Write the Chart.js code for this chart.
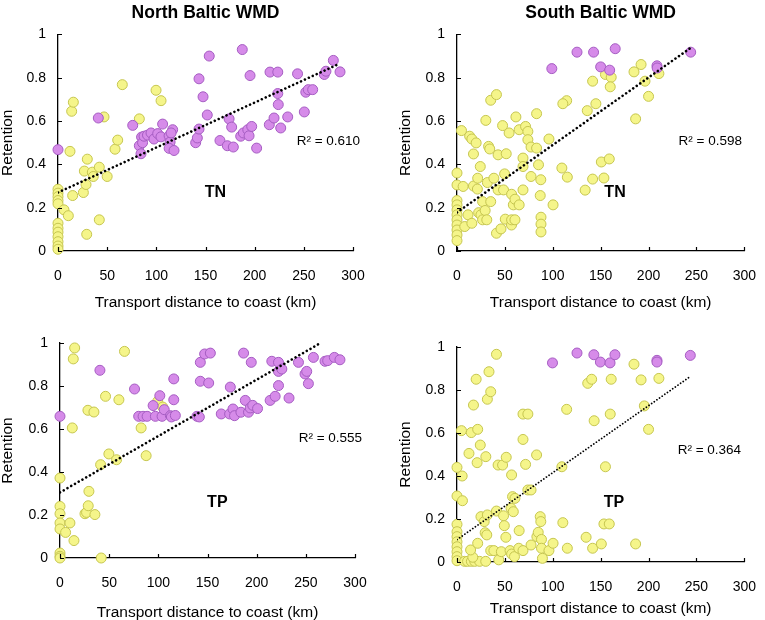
<!DOCTYPE html>
<html>
<head>
<title>Retention vs transport distance to coast</title>
<style>
  body { margin: 0; background: #fff; }
  canvas { position: absolute; }
</style>
<script src="https://cdn.jsdelivr.net/npm/chart.js"></script>
</head>
<body>
<canvas id="nbTN" width="380" height="310" style="left:0;top:0"></canvas>
<canvas id="sbTN" width="385" height="310" style="left:380px;top:0"></canvas>
<canvas id="nbTP" width="380" height="310" style="left:0;top:310px"></canvas>
<canvas id="sbTP" width="385" height="310" style="left:380px;top:310px"></canvas>

<script>
// [distance km, retention] pairs
const nbTN_purple = [[0,0.468],[41,0.614],[76,0.58],[82.7,0.486],[85,0.526],[86,0.5],[84.4,0.449],[87.5,0.53],[91,0.535],[94.6,0.545],[97.6,0.517],[101.4,0.542],[104.7,0.527],[106.4,0.586],[113,0.532],[114,0.503],[113,0.474],[116.6,0.56],[118,0.464],[115,0.545],[140,0.5],[141.7,0.522],[143.4,0.795],[143.4,0.563],[147.5,0.712],[153.8,0.9],[151.8,0.628],[164.7,0.51],[174,0.61],[172.2,0.486],[176.6,0.572],[178.3,0.48],[187.4,0.93],[185.8,0.53],[188.5,0.545],[193,0.56],[194.3,0.532],[195.3,0.81],[197,0.575],[202,0.475],[215.6,0.826],[214.9,0.583],[219.7,0.614],[223.5,0.826],[223.5,0.727],[224,0.676],[226.5,0.568],[233.6,0.619],[243.6,0.818],[250.5,0.642],[252,0.733],[254.5,0.745],[259,0.745],[270.8,0.815],[272.5,0.83],[280,0.88],[286.8,0.827]];
const nbTN_yellow = [[0,0.285],[0,0.267],[0,0.251],[0,0.233],[0,0.218],[0,0.128],[0,0.105],[0,0.087],[0,0.066],[0,0.043],[0,0.023],[0,0.008],[6.1,0.19],[10.5,0.163],[12.2,0.46],[13.9,0.645],[15.6,0.687],[14.9,0.256],[25.8,0.27],[26.8,0.369],[28.5,0.307],[29.2,0.077],[29.8,0.424],[34.9,0.364],[35.9,0.344],[42,0.387],[42,0.144],[46.8,0.619],[50,0.344],[58,0.47],[60.7,0.512],[65.4,0.768],[82.7,0.61],[99.7,0.742],[104.8,0.694]];
const nbTN_trend = [[0,0.27],[285,0.862]];

const sbTN_purple = [[99,0.842],[125.3,0.918],[142.6,0.918],[150,0.85],[159.4,0.835],[165.2,0.934],[208.8,0.855],[209,0.845],[244,0.918]];
const sbTN_yellow = [[0,0.36],[0,0.305],[0,0.233],[0,0.213],[0,0.19],[0,0.167],[0,0.144],[0,0.12],[0,0.097],[0,0.074],[0,0.048],[4.7,0.556],[6.4,0.298],[8.1,0.113],[11.5,0.167],[13.2,0.53],[15.5,0.517],[15.5,0.128],[17.2,0.448],[17.2,0.3],[20,0.499],[21.3,0.286],[21.6,0.336],[22.6,0.177],[24.3,0.39],[25,0.167],[26.7,0.144],[26.7,0.228],[29.4,0.187],[30.1,0.603],[31.7,0.316],[31.1,0.144],[33,0.483],[34.2,0.471],[35.2,0.228],[35.2,0.696],[38.5,0.336],[41.2,0.722],[41.2,0.082],[42.9,0.444],[42.9,0.282],[45.9,0.102],[47.6,0.579],[48.6,0.282],[49.7,0.356],[50.4,0.147],[51.4,0.449],[54.4,0.545],[57,0.262],[58.8,0.213],[56.9,0.12],[57,0.144],[60.5,0.144],[60.5,0.239],[61.5,0.619],[64.9,0.56],[64.9,0.213],[68.9,0.429],[68.9,0.39],[68.9,0.282],[71.6,0.575],[74,0.552],[74,0.514],[77.3,0.48],[77.3,0.344],[83.1,0.634],[83.1,0.475],[85.1,0.398],[86.9,0.256],[87.5,0.329],[87.7,0.156],[87.7,0.124],[87.7,0.088],[96,0.517],[100.3,0.213],[109.5,0.383],[114.5,0.694],[110.5,0.68],[115.2,0.341],[141.6,0.784],[155,0.815],[161,0.802],[160,0.758],[145,0.68],[136,0.648],[141.6,0.332],[150.7,0.411],[159,0.425],[153.4,0.337],[133.8,0.281],[184.8,0.827],[192.2,0.861],[196.3,0.784],[200,0.714],[186.5,0.61],[210.8,0.819]];
const sbTN_trend = [[0,0.178],[244,0.938]];

const nbTP_purple = [[0,0.659],[40.6,0.873],[75.8,0.786],[80,0.659],[84.5,0.659],[88.6,0.659],[94.7,0.709],[97,0.659],[101.5,0.755],[103.8,0.659],[106,0.69],[112.3,0.662],[113.3,0.656],[115.7,0.833],[115.7,0.736],[117.3,0.663],[139.3,0.659],[141.7,0.656],[142.7,0.822],[142.7,0.91],[147.1,0.949],[151.2,0.814],[152.9,0.953],[164,0.67],[172.5,0.67],[173.2,0.795],[175.9,0.693],[177.5,0.662],[186.7,0.953],[184,0.678],[188.4,0.733],[191.7,0.678],[194.5,0.91],[193.4,0.698],[196,0.71],[200.9,0.695],[213.7,0.733],[215.4,0.915],[218.8,0.752],[222.2,0.91],[222.2,0.802],[222.2,0.868],[225.6,0.879],[232.9,0.744],[242.5,0.91],[249.2,0.856],[250.9,0.868],[252.6,0.811],[257.7,0.933],[269.5,0.915],[272.2,0.918],[279,0.933],[284.7,0.922]];
const nbTP_yellow = [[0,0.372],[0,0.24],[0,0.206],[0,0.163],[0,0.135],[0,0.023],[0,0.008],[0,0],[5.7,0.119],[10.1,0.163],[12.5,0.605],[13.5,0.926],[14.9,0.977],[14.2,0.081],[25.4,0.206],[27,0.212],[28.4,0.687],[28.7,0.243],[29.4,0.31],[34.5,0.679],[35.5,0.202],[41.3,0.434],[41.9,0],[46.3,0.752],[49.7,0.484],[57.5,0.457],[59.9,0.736],[65.6,0.961],[82.5,0.605],[87.6,0.476],[99.4,0.729],[104.5,0.702]];
const nbTP_trend = [[0,0.305],[265,1.0]];

const sbTP_purple = [[99.7,0.926],[125.3,0.972],[142.9,0.964],[149.7,0.93],[159.8,0.926],[164.9,0.964],[208.8,0.938],[208.8,0.93],[243.6,0.961]];
const sbTP_yellow = [[0,0.44],[0,0.307],[0,0.175],[0,0.141],[0,0.118],[0,0.094],[0,0.071],[0,0.048],[0,0.025],[0,0.006],[4.7,0.611],[5.4,0.4],[5.7,0.285],[8,0.003],[11,0.003],[15,0.003],[18.5,0.003],[23.6,0.003],[30,0.003],[12.5,0.505],[14.9,0.602],[17.2,0.73],[16.5,0.022],[14.2,0.056],[21.6,0.617],[21,0.462],[21.6,0.087],[20,0.85],[24.3,0.544],[25,0.211],[28.4,0.188],[30.1,0.49],[29.4,0.136],[31.1,0.126],[31.7,0.219],[31.7,0.757],[33.4,0.885],[35.2,0.792],[35.2,0.053],[38.5,0.053],[41.2,0.966],[42.9,0.451],[41.2,0.237],[43.6,0.01],[46.3,0.048],[47.6,0.451],[48.6,0.215],[49.4,0.169],[51.4,0.487],[51,0.115],[55.4,0.053],[56.4,0.25],[57,0.405],[58,0.304],[58.8,0.234],[60.5,0.296],[57,0.037],[60,0.025],[64.9,0.146],[64.5,0.064],[68.9,0.688],[74,0.688],[68.9,0.57],[71.6,0.454],[68.9,0.053],[74,0.335],[77.3,0.335],[77.3,0.079],[83.1,0.498],[83.4,0.118],[84.8,0.138],[86.9,0.211],[87.5,0.188],[88.2,0.105],[88.2,0.064],[89.2,0.017],[96,0.053],[100.3,0.087],[109.5,0.443],[110.5,0.183],[114.5,0.71],[115.2,0.064],[136.5,0.831],[140.6,0.85],[143.2,0.657],[134.8,0.115],[141.6,0.064],[161,0.85],[160,0.688],[184.8,0.92],[192.2,0.847],[210.8,0.854],[195.6,0.726],[200,0.617],[155,0.443],[153.4,0.177],[159,0.177],[150.7,0.084],[186.5,0.084]];
const sbTP_trend = [[0,0.104],[244,0.864]];

const xTickValues = [0, 50, 100, 150, 200, 250, 300];
const yTickValues = [0, 0.2, 0.4, 0.6, 0.8, 1];

const PURPLE = '#d68be9', PURPLE_EDGE = '#a55dc2';
const YELLOW = '#f5f58a', YELLOW_EDGE = '#c6c650';
const FONT = "'Liberation Sans', Arial, sans-serif";

const toPts = arr => arr.map(p => ({x: p[0], y: p[1]}));

// inside tick marks + panel texts (R², nutrient label)
function panelDecor(labels) {
    return {
        id: 'panelDecor',
        afterDraw(chart) {
            const {ctx, chartArea, scales: {x, y}} = chart;
            ctx.save();
            ctx.strokeStyle = '#000';
            ctx.lineWidth = 1.2;
            ctx.beginPath();
            xTickValues.forEach(v => {
                const px = Math.round(x.getPixelForValue(v)) + 0.5;
                ctx.moveTo(px, chartArea.bottom);
                ctx.lineTo(px, chartArea.bottom - 4);
            });
            yTickValues.forEach(v => {
                const py = Math.round(y.getPixelForValue(v)) + 0.5;
                ctx.moveTo(chartArea.left, py);
                ctx.lineTo(chartArea.left + 4, py);
            });
            ctx.stroke();
            ctx.fillStyle = '#000';
            ctx.textAlign = 'center';
            ctx.textBaseline = 'middle';
            labels.forEach(t => {
                ctx.font = t.font;
                ctx.fillText(t.text, x.getPixelForValue(t.x), y.getPixelForValue(t.y));
            });
            ctx.restore();
        }
    };
}

function makePanel(id, p) {
    new Chart(document.getElementById(id), {
        type: 'scatter',
        data: {
            datasets: [
                {
                    type: 'line',
                    data: toPts(p.trend),
                    borderColor: '#000',
                    borderWidth: p.dotSize,
                    borderDash: [0.01, p.dotGap],
                    borderCapStyle: 'round',
                    pointRadius: 0,
                    fill: false,
                    order: 0
                },
                {
                    data: toPts(p.purple),
                    backgroundColor: PURPLE,
                    borderColor: PURPLE_EDGE,
                    borderWidth: 1,
                    pointRadius: 5,
                    clip: false,
                    order: 1
                },
                {
                    data: toPts(p.yellow),
                    backgroundColor: YELLOW,
                    borderColor: YELLOW_EDGE,
                    borderWidth: 1,
                    pointRadius: 5,
                    clip: false,
                    order: 2
                }
            ]
        },
        options: {
            responsive: false,
            animation: false,
            events: [],
            layout: { padding: p.pad },
            plugins: {
                legend: { display: false },
                tooltip: { enabled: false },
                title: {
                    display: !!p.title,
                    text: p.title || '',
                    fullSize: false,
                    color: '#000',
                    font: { family: FONT, size: 17.5, weight: 'bold' },
                    padding: { top: 3, bottom: 10.4 }
                }
            },
            scales: {
                x: {
                    type: 'linear',
                    min: 0, max: 300,
                    afterBuildTicks: s => { s.ticks = xTickValues.map(v => ({value: v})); },
                    afterFit: s => { s.height = p.xH; },
                    grid: { display: false },
                    border: { display: true, color: '#000', width: 1.3 },
                    ticks: { color: '#000', padding: 9, maxRotation: 0, font: { family: FONT, size: 14 } },
                    title: {
                        display: true,
                        text: 'Transport distance to coast (km)',
                        color: '#000',
                        padding: 0,
                        font: { family: FONT, size: 15.5, lineHeight: 1 }
                    }
                },
                y: {
                    type: 'linear',
                    min: 0, max: 1,
                    afterBuildTicks: s => { s.ticks = yTickValues.map(v => ({value: v})); },
                    afterFit: s => { s.width = p.yW; },
                    grid: { display: false, drawTicks: false },
                    border: { display: true, color: '#000', width: 1.3 },
                    ticks: {
                        color: '#000', padding: 12, font: { family: FONT, size: 14 },
                        callback: v => String(Number(v.toFixed(2)))
                    },
                    title: {
                        display: true,
                        text: 'Retention',
                        color: '#000',
                        padding: 0,
                        font: { family: FONT, size: 15.5, lineHeight: 1 }
                    }
                }
            }
        },
        plugins: [panelDecor(p.labels)]
    });
}

const r2Font = '13.5px ' + FONT;
const tagFont = 'bold 16px ' + FONT;

makePanel('nbTN', {
    title: 'North Baltic WMD',
    purple: nbTN_purple, yellow: nbTN_yellow, trend: nbTN_trend,
    dotSize: 2.6, dotGap: 4.3,
    pad: { left: 0, right: 27, top: 0, bottom: 0 }, yW: 58, xH: 59,
    labels: [
        { text: 'R\u00b2 = 0.610', x: 275, y: 0.505, font: r2Font },
        { text: 'TN', x: 160, y: 0.27, font: tagFont }
    ]
});

makePanel('sbTN', {
    title: 'South Baltic WMD',
    purple: sbTN_purple, yellow: sbTN_yellow, trend: sbTN_trend,
    dotSize: 2.6, dotGap: 4.3,
    pad: { left: 18, right: 12, top: 0, bottom: 0 }, yW: 59, xH: 59,
    labels: [
        { text: 'R\u00b2 = 0.598', x: 264.5, y: 0.505, font: r2Font },
        { text: 'TN', x: 165, y: 0.27, font: tagFont }
    ]
});

makePanel('nbTP', {
    purple: nbTP_purple, yellow: nbTP_yellow, trend: nbTP_trend,
    dotSize: 2.6, dotGap: 4.3,
    pad: { left: 0, right: 25, top: 33, bottom: 0 }, yW: 60, xH: 62,
    labels: [
        { text: 'R\u00b2 = 0.555', x: 275, y: 0.557, font: r2Font },
        { text: 'TP', x: 160, y: 0.256, font: tagFont }
    ]
});

makePanel('sbTP', {
    purple: sbTP_purple, yellow: sbTP_yellow, trend: sbTP_trend,
    dotSize: 1.8, dotGap: 3.2,
    pad: { left: 18, right: 12, top: 37, bottom: 4 }, yW: 59, xH: 54,
    labels: [
        { text: 'R\u00b2 = 0.364', x: 263.5, y: 0.52, font: r2Font },
        { text: 'TP', x: 164, y: 0.274, font: tagFont }
    ]
});
</script>
</body>
</html>
